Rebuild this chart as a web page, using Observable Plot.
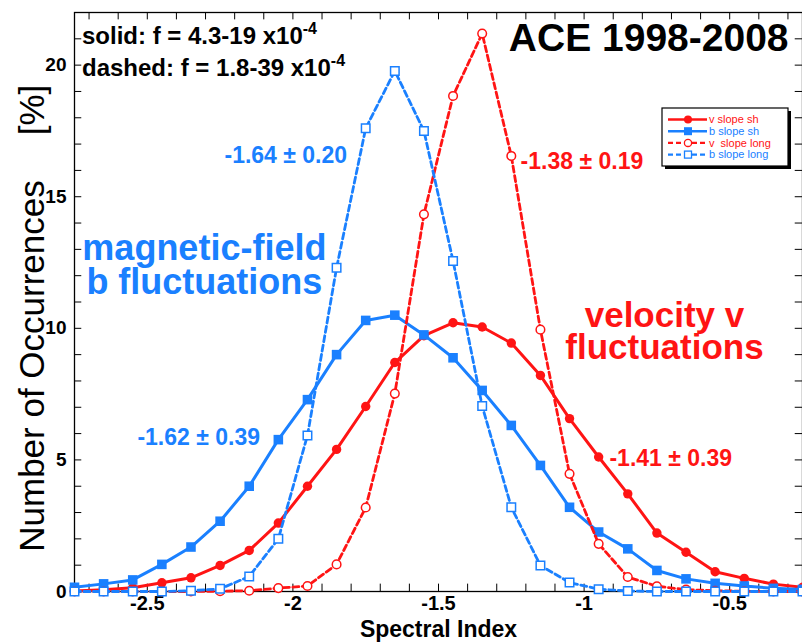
<!DOCTYPE html>
<html><head><meta charset="utf-8">
<script src="https://cdn.jsdelivr.net/npm/d3@7"></script>
<script src="https://cdn.jsdelivr.net/npm/@observablehq/plot@0.6"></script>
<style>
html,body{margin:0;padding:0;background:#fff;}
#chart svg{display:block;}
</style></head>
<body><div id="chart"></div>
<script>
// ---- data ----
const spectralIndex = [-2.75,-2.65,-2.55,-2.45,-2.35,-2.25,-2.15,-2.05,-1.95,-1.85,-1.75,-1.65,-1.55,-1.45,-1.35,-1.25,-1.15,-1.05,-0.95,-0.85,-0.75,-0.65,-0.55,-0.45,-0.35,-0.25];
const vSlopeSh   = [0.02,0.07,0.14,0.33,0.52,0.99,1.56,2.60,4.00,5.40,7.03,8.70,9.72,10.21,10.05,9.44,8.21,6.57,5.11,3.71,2.22,1.49,0.75,0.50,0.28,0.16];
const bSlopeSh   = [0.16,0.29,0.44,1.03,1.69,2.67,4.00,5.77,7.29,9.00,10.30,10.50,9.75,8.88,7.64,6.31,4.79,3.20,2.26,1.62,0.80,0.48,0.31,0.21,0.12,0.08];
const vSlopeLong = [0,0,0,0,0,0.01,0.03,0.13,0.21,1.03,3.19,7.52,14.33,18.83,21.20,16.55,9.95,4.47,1.81,0.55,0.20,0.07,0.03,0.01,0,0];
const bSlopeLong = [0,0,0,0,0.03,0.10,0.57,2.00,5.93,12.30,17.60,19.78,17.50,12.56,7.05,3.20,0.99,0.34,0.09,0.02,0,0,0,0,0,0];

const xTickValues = [-2.5,-2,-1.5,-1,-0.5];
const xTickLabels = ["-2.5","-2","-1.5","-1","-0.5"];
const yTickValues = [0,5,10,15,20];
const yTickLabels = ["0","5","10","15","20"];
const seriesNames = ["v slope sh","b slope sh","v  slope long","b slope long"];
const statLabels  = ["-1.64 \u00b1 0.20","-1.38 \u00b1 0.19","-1.62 \u00b1 0.39","-1.41 \u00b1 0.39"];
const groupLabels = ["magnetic-field\nb fluctuations", "velocity v\nfluctuations"];
const titleText = "ACE 1998-2008";
const xTitle = "Spectral Index";
const yTitle = "Number of Occurrences";
const yUnit = "[%]";

// ---- styles ----
const FONT = "'Liberation Sans', Arial, Helvetica, sans-serif";
const RED = "#ff1414";
const BLUE = "#1a80ff";
const DASH = "6,3.5";

const toRows = ys => spectralIndex.map((x, i) => ({x, y: ys[i]}));
const vSh = toRows(vSlopeSh), bSh = toRows(bSlopeSh), vLong = toRows(vSlopeLong), bLong = toRows(bSlopeLong);

const xMinor = d3.range(-27, -2).map(d => d / 10);
const yMinor = d3.range(1, 22);

const tickStyle = {stroke: "black", strokeWidth: 1};

const chart = Plot.plot({
  width: 802, height: 643,
  marginLeft: 74, marginRight: 0, marginTop: 12, marginBottom: 52,
  x: {domain: [-2.75, -0.25]},
  y: {domain: [0, 22]},
  style: {fontFamily: FONT, background: "white", color: "black"},
  marks: [
    // inward ticks on all four sides
    Plot.ruleX(xMinor, {y1: 0, y2: 0.28, ...tickStyle}),
    Plot.ruleX(xMinor, {y1: 22, y2: 21.72, ...tickStyle}),
    Plot.ruleY(yMinor, {x1: -2.75, x2: -2.725, ...tickStyle}),
    Plot.ruleY(yMinor, {x1: -0.25, x2: -0.275, ...tickStyle}),
    Plot.axisX({ticks: xTickValues, tickFormat: d => xTickLabels[xTickValues.indexOf(d)], tickSize: 0, tickPadding: 4,
      fontSize: 20, fontWeight: "bold", label: null}),
    Plot.axisY({ticks: yTickValues, tickFormat: d => yTickLabels[yTickValues.indexOf(d)], tickSize: 0, tickPadding: 8,
      fontSize: 19, fontWeight: "bold", label: null}),
    Plot.frame({stroke: "black", strokeWidth: 1.3}),

    // series
    Plot.line(vSh, {x: "x", y: "y", stroke: RED, strokeWidth: 3}),
    Plot.dot(vSh, {x: "x", y: "y", fill: RED, r: 4.7, symbol: "circle"}),
    Plot.line(bSh, {x: "x", y: "y", stroke: BLUE, strokeWidth: 3}),
    Plot.dot(bSh, {x: "x", y: "y", fill: BLUE, r: 5.4, symbol: "square"}),
    Plot.line(vLong, {x: "x", y: "y", stroke: RED, strokeWidth: 2.8, strokeDasharray: DASH}),
    Plot.dot(vLong, {x: "x", y: "y", fill: "white", stroke: RED, strokeWidth: 1.5, r: 4.3, symbol: "circle"}),
    Plot.line(bLong, {x: "x", y: "y", stroke: BLUE, strokeWidth: 2.8, strokeDasharray: DASH}),
    Plot.dot(bLong, {x: "x", y: "y", fill: "white", stroke: BLUE, strokeWidth: 1.5, r: 4.8, symbol: "square"}),

    // annotations (baseline anchored)
    Plot.text([statLabels[0]], {x: -2.235, y: 16.30, textAnchor: "start", lineAnchor: "bottom", fill: BLUE, fontSize: 23, fontWeight: "bold"}),
    Plot.text([statLabels[1]], {x: -1.218, y: 16.07, textAnchor: "start", lineAnchor: "bottom", fill: RED, fontSize: 23, fontWeight: "bold"}),
    Plot.text([statLabels[2]], {x: -2.534, y: 5.585, textAnchor: "start", lineAnchor: "bottom", fill: BLUE, fontSize: 23, fontWeight: "bold"}),
    Plot.text([statLabels[3]], {x: -0.913, y: 4.787, textAnchor: "start", lineAnchor: "bottom", fill: RED, fontSize: 23, fontWeight: "bold"}),
    Plot.text([groupLabels[0]], {x: -2.304, y: 11.32, textAnchor: "middle", lineAnchor: "bottom", lineHeight: 0.944, fill: BLUE, fontSize: 36, fontWeight: "bold"}),
    Plot.text([groupLabels[1]], {x: -0.724, y: 8.85, textAnchor: "middle", lineAnchor: "bottom", lineHeight: 0.9, fill: RED, fontSize: 35, fontWeight: "bold"}),
    Plot.text([titleText], {x: -0.298, y: 20.55, textAnchor: "end", lineAnchor: "bottom", fill: "black", fontSize: 39, fontWeight: "bold"}),

    // axis titles
    Plot.text([xTitle], {frameAnchor: "bottom", dy: 45, lineAnchor: "bottom", textAnchor: "middle", fontSize: 23, fontWeight: "bold", fill: "black"}),
    Plot.text([yTitle], {frameAnchor: "left", dx: -31, dy: 64, rotate: -90, textAnchor: "middle", lineAnchor: "bottom", fontSize: 35, fill: "black"}),
    Plot.text([yUnit], {frameAnchor: "left", dx: -31, dy: -192, rotate: -90, textAnchor: "middle", lineAnchor: "bottom", fontSize: 35, fill: "black"})
  ]
});

document.getElementById("chart").appendChild(chart);

// ---- text with superscripts and legend ----
const svg = d3.select(chart);
const info = [["solid: f = 4.3-19 x10", "-4", 44], ["dashed: f = 1.8-39 x10", "-4", 76]];
info.forEach(([main, sup, yb]) => {
  const t = svg.append("text").attr("x", 82).attr("y", yb).attr("text-anchor", "start")
    .attr("font-family", FONT).attr("font-size", 24).attr("font-weight", "bold").attr("fill", "black");
  t.append("tspan").text(main);
  t.append("tspan").attr("dy", -10).attr("font-size", 16).text(sup);
});

const lg = svg.append("g").attr("font-family", FONT).attr("text-anchor", "start");
lg.append("rect").attr("x", 665).attr("y", 111).attr("width", 126).attr("height", 58).attr("fill", "black");
lg.append("rect").attr("x", 662).attr("y", 108).attr("width", 126).attr("height", 58)
  .attr("fill", "white").attr("stroke", "black").attr("stroke-width", 1.2);
const legendStyles = [
  {color: RED, dash: null, shape: "circle", filled: true},
  {color: BLUE, dash: null, shape: "square", filled: true},
  {color: RED, dash: "5,3", shape: "circle", filled: false},
  {color: BLUE, dash: "5,3", shape: "square", filled: false}
];
seriesNames.forEach((name, i) => {
  const s = legendStyles[i];
  const yc = 119.5 + i * 11.7;
  lg.append("line").attr("x1", 668).attr("x2", 707).attr("y1", yc).attr("y2", yc)
    .attr("stroke", s.color).attr("stroke-width", 2.4).attr("stroke-dasharray", s.dash);
  if (s.shape === "circle") {
    lg.append("circle").attr("cx", 688).attr("cy", yc).attr("r", s.filled ? 4 : 3.6)
      .attr("fill", s.filled ? s.color : "white").attr("stroke", s.color).attr("stroke-width", s.filled ? 0 : 1.3);
  } else {
    const a = s.filled ? 8 : 7;
    lg.append("rect").attr("x", 688 - a / 2).attr("y", yc - a / 2).attr("width", a).attr("height", a)
      .attr("fill", s.filled ? s.color : "white").attr("stroke", s.color).attr("stroke-width", s.filled ? 0 : 1.3);
  }
  lg.append("text").attr("x", 709).attr("y", yc + 3.8).attr("font-size", 11).attr("fill", s.color)
    .attr("text-anchor", "start").attr("xml:space", "preserve").style("white-space", "pre").text(name);
});
</script>
</body></html>
